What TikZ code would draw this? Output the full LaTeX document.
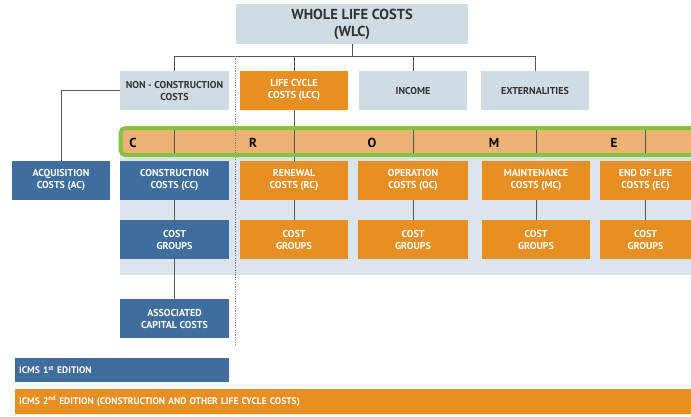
\documentclass[tikz,border=0pt]{standalone}
\usepackage{fontspec}
\setmainfont{PT Sans}
\definecolor{dblue}{HTML}{3F6E9E}
\definecolor{orng}{HTML}{E78F22}
\definecolor{lgrey}{HTML}{CFDCE3}
\definecolor{panel}{HTML}{DCE5EB}
\definecolor{bando}{HTML}{EDB274}
\definecolor{grn}{HTML}{82C341}
\definecolor{txtd}{HTML}{333333}
\definecolor{lin}{HTML}{555555}
\tikzset{
  bx/.style={inner sep=0pt, minimum height=39pt, align=center, font=\fontsize{10}{12}\selectfont\bfseries},
  bluebx/.style={bx, fill=dblue, text=white},
  orbx/.style={bx, fill=orng, text=white},
  greybx/.style={bx, fill=lgrey, text=txtd},
  conn/.style={draw=lin, line width=0.8pt},
  lett/.style={inner sep=0pt, font=\fontsize{13}{13}\selectfont\bfseries, text=black}
}
\begin{document}
\begin{tikzpicture}[x=1pt,y=-1pt]
\useasboundingbox (0,0) rectangle (691,416);
% panel and band
\fill[panel] (120,130) rectangle (691,275);
\fill[bando] (120,130) rectangle (691,153);
% top
\node[greybx, minimum width=232pt, minimum height=40pt, font=\fontsize{14.5}{17}\selectfont\bfseries] (wlc) at (352,24) {WHOLE LIFE COSTS\\(WLC)};
\node[greybx, minimum width=109pt] (ncc) at (174.5,90.5) {NON - CONSTRUCTION\\COSTS};
\node[orbx, minimum width=108pt] (lcc) at (294,90.5) {LIFE CYCLE\\COSTS (LCC)};
\node[greybx, minimum width=108pt] (inc) at (413,90.5) {INCOME};
\node[greybx, minimum width=108pt] (ext) at (535,90.5) {EXTERNALITIES};
% level 3
\node[bluebx, minimum width=98pt] (ac) at (61,180.5) {ACQUISITION\\COSTS (AC)};
\node[bluebx, minimum width=109pt] (cc) at (174.5,180.5) {CONSTRUCTION\\COSTS (CC)};
\node[orbx, minimum width=108pt] (rc) at (294,180.5) {RENEWAL\\COSTS (RC)};
\node[orbx, minimum width=110pt] (oc) at (413,180.5) {OPERATION\\COSTS (OC)};
\node[orbx, minimum width=108pt] (mc) at (536,180.5) {MAINTENANCE\\COSTS (MC)};
\node[orbx, minimum width=91pt] (ec) at (645.5,180.5) {END OF LIFE\\COSTS (EC)};
% level 4
\node[bluebx, minimum width=109pt] (g1) at (174.5,239.5) {COST\\GROUPS};
\node[orbx, minimum width=108pt] (g2) at (294,239.5) {COST\\GROUPS};
\node[orbx, minimum width=110pt] (g3) at (413,239.5) {COST\\GROUPS};
\node[orbx, minimum width=108pt] (g4) at (536,239.5) {COST\\GROUPS};
\node[orbx, minimum width=91pt] (g5) at (645.5,239.5) {COST\\GROUPS};
\node[bluebx, minimum width=109pt] (acc) at (174.5,318.5) {ASSOCIATED\\CAPITAL COSTS};
% editions
\node[bluebx, minimum width=214pt, minimum height=24pt, anchor=west, text width=206pt, align=left, font=\fontsize{9.5}{10}\selectfont\bfseries] (ed1) at (15,370) {ICMS 1\textsuperscript{st} EDITION};
\node[orbx, minimum width=676pt, minimum height=25pt, anchor=west, text width=668pt, align=left, font=\fontsize{9.5}{10}\selectfont\bfseries] (ed2) at (15,401.5) {ICMS 2\textsuperscript{nd} EDITION (CONSTRUCTION AND OTHER LIFE CYCLE COSTS)};
% connectors
\coordinate (busL) at (174.5,56);
\coordinate (busR) at (535,56);
\draw[conn] (wlc.south) -- (wlc.south |- busL);
\draw[conn] (busL) -- (busR);
\draw[conn] (ncc.north) -- (busL);
\draw[conn] (lcc.north) -- (lcc.north |- busL);
\draw[conn] (inc.north) -- (inc.north |- busL);
\draw[conn] (ext.north) -- (busR);
\draw[conn] (ncc.west) -| (ac.north);
\draw[conn] (lcc.south) -- (rc.north);
\coordinate (bt) at (0,130);
\coordinate (bb) at (0,153);
\draw[conn] (cc.north |- bt) -- (cc.north |- bb);
\draw[conn] (oc.north |- bt) -- (oc.north |- bb);
\draw[conn] (mc.north |- bt) -- (mc.north |- bb);
\draw[conn] (ec.north |- bt) -- (ec.north |- bb);
\draw[conn] (cc.south) -- (g1.north);
\draw[conn] (rc.south) -- (g2.north);
\draw[conn] (oc.south) -- (g3.north);
\draw[conn] (mc.south) -- (g4.north);
\draw[conn] (ec.south) -- (g5.north);
\draw[conn] (g1.south) -- (acc.north);
\coordinate (dtop) at (235,56);
\coordinate (dbot) at (235,345);
\draw[draw=gray, line width=0.6pt, dash pattern=on 1.2pt off 1.2pt] (dtop) -- (dbot);
% band letters
\node[lett] (lc) at (133,143) {C};
\node[lett] (lr) at (253,143) {R};
\node[lett] (lo) at (372,143) {O};
\node[lett] (lm) at (494,143) {M};
\node[lett] (le) at (614,143) {E};
% green highlight
\draw[grn, line width=4pt, rounded corners=5pt] (120.5,128) rectangle (712,155);
\end{tikzpicture}
\end{document}
